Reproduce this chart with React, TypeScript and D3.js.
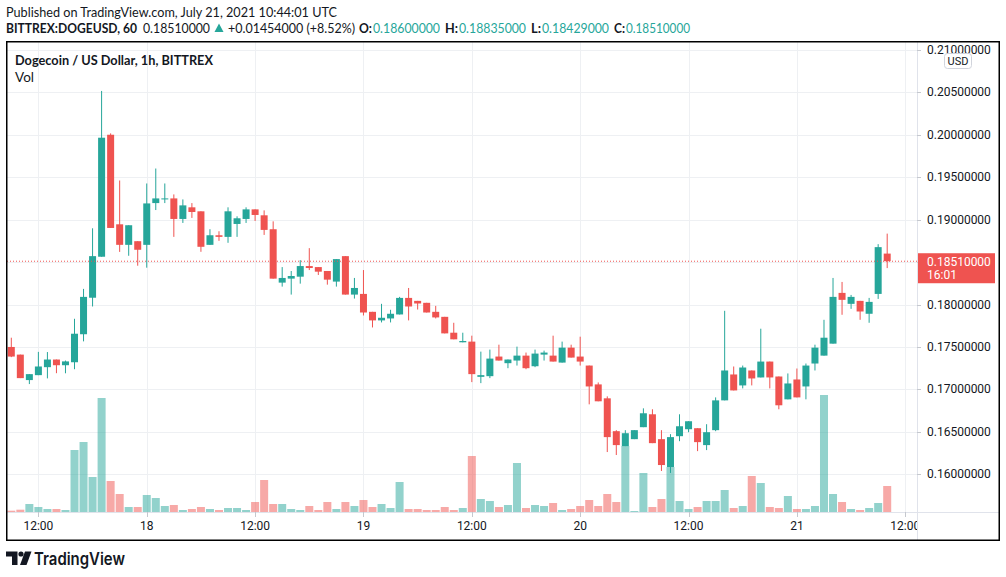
import React from 'react';
import * as d3 from 'd3';

// hourly candles, BITTREX DOGEUSD, starting 17 Jul 2021 09:00 UTC
const open = [
  0.175, 0.1741, 0.1711, 0.17168, 0.17262, 0.17352, 0.17285, 0.1732, 0.1765, 0.1808,
  0.18563, 0.2, 0.18945, 0.18703, 0.18746, 0.18703, 0.19195, 0.19246, 0.1925, 0.19008,
  0.19145, 0.19098, 0.18703, 0.18816, 0.18797, 0.18949, 0.19008, 0.19121, 0.19051, 0.18887,
  0.18258, 0.18305, 0.18328, 0.18453, 0.18441, 0.18395, 0.1827, 0.1857, 0.18117, 0.18125,
  0.17914, 0.17813, 0.17836, 0.17883, 0.18078, 0.18043, 0.1802, 0.17914, 0.17855, 0.17668,
  0.17555, 0.17563, 0.17148, 0.17156, 0.17387, 0.17309, 0.1734, 0.17398, 0.17273, 0.1741,
  0.17398, 0.17316, 0.17492, 0.17387, 0.17281, 0.17059, 0.16895, 0.16508, 0.16332, 0.16414,
  0.16555, 0.16707, 0.16414, 0.16086, 0.16449, 0.16531, 0.16543, 0.16344, 0.1652, 0.16871,
  0.17176, 0.17047, 0.17223, 0.17141, 0.17328, 0.17152, 0.16883, 0.17117, 0.17035, 0.17305,
  0.17398, 0.17539, 0.18137, 0.18008, 0.18043, 0.17891, 0.18125, 0.186,
];
const high = [
  0.17609, 0.1741, 0.1718, 0.17442, 0.1744, 0.17352, 0.1734, 0.17832, 0.18184, 0.18898,
  0.20516, 0.20016, 0.19461, 0.18934, 0.18746, 0.19426, 0.19602, 0.19426, 0.19297, 0.19238,
  0.19195, 0.19098, 0.18887, 0.18863, 0.19145, 0.19039, 0.19145, 0.19121, 0.19109, 0.1898,
  0.18441, 0.18395, 0.18523, 0.18664, 0.18441, 0.18395, 0.18535, 0.1857, 0.18313, 0.18406,
  0.17914, 0.18008, 0.17938, 0.1809, 0.18195, 0.18043, 0.1802, 0.17984, 0.17855, 0.17785,
  0.17668, 0.17633, 0.17445, 0.17469, 0.17527, 0.17352, 0.17504, 0.17434, 0.17469, 0.17457,
  0.17633, 0.17563, 0.17527, 0.17621, 0.17281, 0.17082, 0.16918, 0.1652, 0.1652, 0.1652,
  0.16777, 0.16766, 0.1652, 0.16473, 0.16707, 0.16625, 0.16543, 0.1659, 0.16906, 0.17926,
  0.1727, 0.17281, 0.17223, 0.17715, 0.17328, 0.17152, 0.17188, 0.17246, 0.17305, 0.17527,
  0.1782, 0.18313, 0.18266, 0.18113, 0.18043, 0.18078, 0.18711, 0.18835,
];
const low = [
  0.1738, 0.17133, 0.17063, 0.17168, 0.1713, 0.17191, 0.1719, 0.17238, 0.17566, 0.17977,
  0.18563, 0.18902, 0.1862, 0.18574, 0.18457, 0.18434, 0.19113, 0.19195, 0.18797, 0.18961,
  0.1902, 0.18621, 0.18703, 0.1875, 0.18727, 0.18797, 0.18961, 0.18984, 0.1882, 0.18305,
  0.18211, 0.18117, 0.18246, 0.18406, 0.18348, 0.18234, 0.18211, 0.18117, 0.1807, 0.17871,
  0.1773, 0.17789, 0.17789, 0.17883, 0.17813, 0.17941, 0.17906, 0.17836, 0.1766, 0.1759,
  0.17555, 0.17086, 0.17074, 0.17133, 0.1734, 0.1725, 0.17281, 0.17238, 0.17262, 0.1734,
  0.17328, 0.17316, 0.17375, 0.17281, 0.16824, 0.1686, 0.16262, 0.16227, 0.16332, 0.16414,
  0.16555, 0.16367, 0.16039, 0.16016, 0.1639, 0.16496, 0.16273, 0.16285, 0.16508, 0.16871,
  0.16988, 0.17012, 0.17047, 0.17141, 0.17012, 0.16766, 0.16883, 0.16906, 0.16883, 0.17223,
  0.17398, 0.17539, 0.17879, 0.17949, 0.1782, 0.17785, 0.18066, 0.18429,
];
const close = [
  0.17387, 0.17133, 0.1718, 0.1727, 0.17352, 0.17285, 0.1733, 0.17656, 0.1809, 0.1857,
  0.19965, 0.18902, 0.18703, 0.18934, 0.18645, 0.19191, 0.1925, 0.1925, 0.19008, 0.19168,
  0.1909, 0.1868, 0.18816, 0.18797, 0.19098, 0.19016, 0.19121, 0.19055, 0.18879, 0.18305,
  0.18313, 0.18336, 0.18453, 0.1843, 0.18387, 0.18293, 0.18535, 0.18117, 0.18195, 0.17906,
  0.17813, 0.17844, 0.17891, 0.18078, 0.17977, 0.18012, 0.17906, 0.17848, 0.1766, 0.1759,
  0.1757, 0.1718, 0.17168, 0.17363, 0.1734, 0.17352, 0.17398, 0.1725, 0.17422, 0.17434,
  0.17328, 0.17492, 0.17375, 0.17328, 0.17035, 0.1686, 0.16438, 0.16344, 0.16484, 0.1652,
  0.16719, 0.16367, 0.16109, 0.16438, 0.16566, 0.16625, 0.16379, 0.16496, 0.16871, 0.17223,
  0.16988, 0.17258, 0.17129, 0.17328, 0.17141, 0.16813, 0.1707, 0.16906, 0.17281, 0.17492,
  0.17609, 0.1809, 0.18055, 0.1809, 0.17918, 0.18031, 0.18676, 0.1851,
];
// volume, thousands
const volume = [
  1.3, 2.3, 8, 5, 3, 3, 2, 62, 70, 35,
  114, 31, 18, 5, 5, 17, 14, 6, 7, 2,
  3, 5, 3, 2, 4, 4, 2, 10, 32, 8,
  8, 3, 2, 6, 2, 10, 3, 10, 6, 12,
  5, 8, 4, 30, 3, 3, 2, 2, 5, 2,
  4, 56, 13, 11, 5, 7, 49, 4, 7, 6,
  9, 2, 3, 6, 12, 6, 18, 10, 66, 1,
  39, 5, 13, 45, 11, 3, 5, 11, 11, 22,
  4, 6, 36, 29, 5, 4, 16, 3, 3, 6,
  117, 18, 10, 3, 2, 4, 9, 26,
];

const lastPrice = 0.1851;
const priceTicks = d3.range(0.16, 0.2101, 0.005);

const GREEN = '#26a69a';
const RED = '#ef5350';
const TEXT = '#131722';
const GRID = '#eef0f3';
const AXIS_FONT = 'Roboto, "DejaVu Sans", sans-serif';
const HEAD_FONT = 'Lato, "Liberation Sans Narrow", sans-serif';

const start = Date.UTC(2021, 6, 17, 9);
const times = open.map((_, i) => new Date(start + i * 3600e3));

export default function App() {
  const left = 7, right = 917, top = 42, bottom = 512;

  const x = d3.scaleUtc()
    .domain([times[0], times[times.length - 1]])
    .range([11.3, 887.2]);
  const y = d3.scaleLinear().domain([0.16, 0.205]).range([474.3, 92.3]);
  const v = d3.scaleLinear().domain([0, 120]).range([bottom, bottom - 120]);

  const timeTicks = d3.utcHour.every(12)!.range(x.invert(left), x.invert(right + 20));
  const fmtTick = (d: Date) => (d.getUTCHours() === 0 ? String(d.getUTCDate()) : d3.utcFormat('%H:%M')(d));

  const bodyW = 7;
  const volW = 8;

  const header2: { t: string; x0: number; x1: number; c: string; b?: boolean }[] = [
    { t: 'BITTREX:DOGEUSD, 60', x0: 6, x1: 137, c: TEXT, b: true },
    { t: '0.18510000', x0: 143, x1: 210, c: TEXT },
    { t: '+0.01454000 (+8.52%)', x0: 228, x1: 355, c: TEXT },
    { t: 'O:', x0: 359, x1: 372, c: TEXT, b: true },
    { t: '0.18600000', x0: 373, x1: 440, c: GREEN },
    { t: 'H:', x0: 445, x1: 458, c: TEXT, b: true },
    { t: '0.18835000', x0: 459, x1: 526, c: GREEN },
    { t: 'L:', x0: 531, x1: 541, c: TEXT, b: true },
    { t: '0.18429000', x0: 542, x1: 609, c: GREEN },
    { t: 'C:', x0: 614, x1: 625, c: TEXT, b: true },
    { t: '0.18510000', x0: 626, x1: 690, c: GREEN },
  ];

  return (
    <div style={{ position: 'fixed', left: 0, top: 0, width: 1006, height: 577, background: '#fff' }}>
      <svg width={1006} height={577} style={{ display: 'block' }}>
        <defs>
          <clipPath id="plot">
            <rect x={left} y={top} width={right - left} height={bottom - top} />
          </clipPath>
          <clipPath id="timeaxis">
            <rect x={left} y={bottom} width={right - left} height={30} />
          </clipPath>
        </defs>

        {/* header */}
        <text x={6} y={17} fontFamily={HEAD_FONT} fontSize={13.5} fill={TEXT}
          textLength={331} lengthAdjust="spacingAndGlyphs">
          Published on TradingView.com, July 21, 2021 10:44:01 UTC
        </text>
        {header2.map((s, i) => (
          <text key={i} x={s.x0} y={33} fontFamily={HEAD_FONT} fontSize={12.5} fill={s.c}
            fontWeight={s.b ? 700 : 400} textLength={s.x1 - s.x0} lengthAdjust="spacingAndGlyphs">
            {s.t}
          </text>
        ))}
        <path d="M214.5,32 L219,23.5 L223.5,32 Z" fill={GREEN} />

        {/* grid */}
        <g clipPath="url(#plot)">
          {priceTicks.map(p => (
            <line key={p} x1={left} x2={right} y1={Math.round(y(p)) + 0.5} y2={Math.round(y(p)) + 0.5}
              stroke={GRID} />
          ))}
          {timeTicks.map(t => (
            <line key={+t} x1={Math.round(x(t)) + 0.5} x2={Math.round(x(t)) + 0.5} y1={top} y2={bottom}
              stroke={GRID} />
          ))}
        </g>

        {/* volume */}
        <g clipPath="url(#plot)">
          {volume.map((vol, i) => (
            <rect key={i} x={x(times[i]) - volW / 2} y={v(vol)} width={volW} height={bottom - v(vol)}
              fill={close[i] >= open[i] ? GREEN : RED} fillOpacity={0.5} />
          ))}
        </g>

        {/* candles */}
        <g clipPath="url(#plot)">
          {open.map((o, i) => {
            const c = close[i];
            const up = c >= o;
            const col = up ? GREEN : RED;
            const cx = x(times[i]);
            const yTop = y(Math.max(o, c));
            const yBot = y(Math.min(o, c));
            return (
              <g key={i}>
                <line x1={cx} x2={cx} y1={y(high[i])} y2={y(low[i])} stroke={col} strokeWidth={1} />
                <rect x={cx - bodyW / 2} y={yTop} width={bodyW} height={Math.max(1, yBot - yTop)} fill={col} />
              </g>
            );
          })}
        </g>

        {/* last price line */}
        <line x1={left} x2={right} y1={y(lastPrice)} y2={y(lastPrice)} stroke={RED}
          strokeWidth={1} strokeDasharray="1 2" />

        {/* legend in pane */}
        <text x={15} y={65} fontFamily={HEAD_FONT} fontSize={13.5} fontWeight={700} fill={TEXT}
          textLength={198} lengthAdjust="spacingAndGlyphs">
          Dogecoin / US Dollar, 1h, BITTREX
        </text>
        <text x={15} y={82} fontFamily={HEAD_FONT} fontSize={13.5} fill={TEXT}>Vol</text>

        {/* axes lines */}
        <line x1={left} x2={999} y1={bottom + 0.5} y2={bottom + 0.5} stroke="#e0e3eb" />
        <line x1={right + 0.5} x2={right + 0.5} y1={top} y2={540} stroke="#e0e3eb" />

        {/* price axis */}
        {priceTicks.map(p => (
          <g key={p}>
            <line x1={right} x2={right + 4} y1={Math.round(y(p)) + 0.5} y2={Math.round(y(p)) + 0.5} stroke="#c5c8ce" />
            <text x={927} y={y(p) + 4} fontFamily={AXIS_FONT} fontSize={12} fill={TEXT}>
              {p.toFixed(8)}
            </text>
          </g>
        ))}
        <rect x={944.5} y={53.5} width={27} height={15} rx={3} fill="#fff" stroke="#d1d4dc" />
        <text x={958} y={65} textAnchor="middle" fontFamily={AXIS_FONT} fontSize={11} fill={TEXT}>USD</text>

        <rect x={918} y={y(lastPrice) - 8} width={77} height={30} fill={RED} />
        <text x={927} y={y(lastPrice) + 5} fontFamily={AXIS_FONT} fontSize={12} fill="#fff">
          {lastPrice.toFixed(8)}
        </text>
        <text x={927} y={y(lastPrice) + 18} fontFamily={AXIS_FONT} fontSize={12} fill="#fff">16:01</text>

        {/* time axis */}
        <g clipPath="url(#timeaxis)">
          {timeTicks.map(t => (
            <g key={+t}>
              <line x1={Math.round(x(t)) + 0.5} x2={Math.round(x(t)) + 0.5} y1={bottom} y2={bottom + 5} stroke="#c5c8ce" />
              <text x={x(t)} y={530} textAnchor="middle" fontFamily={AXIS_FONT} fontSize={12} fill={TEXT}>
                {fmtTick(t)}
              </text>
            </g>
          ))}
        </g>

        {/* frame */}
        <rect x={6.75} y={41.75} width={992.5} height={498.5} fill="none" stroke="#000" strokeWidth={1.5} />

        {/* TradingView logo */}
        <g fill={TEXT}>
          <path d="M6,551.5 H17.5 V565 H12 V556.5 H6 Z" />
          <circle cx={21} cy={554} r={2.6} />
          <path d="M25,551.5 H31.5 L26.5,565 H20 Z" />
          <text x={34} y={564.5} fontFamily="Inter, Roboto, sans-serif" fontSize={17} fontWeight={600}
            textLength={91} lengthAdjust="spacingAndGlyphs">
            TradingView
          </text>
        </g>
      </svg>
    </div>
  );
}
